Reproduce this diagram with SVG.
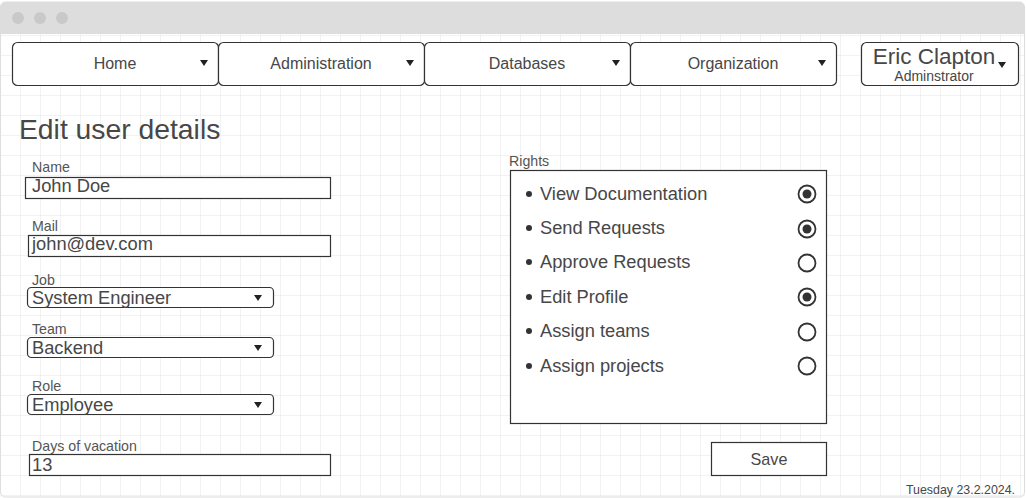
<svg xmlns="http://www.w3.org/2000/svg" width="1026" height="498" viewBox="0 0 1026 498">
<defs>
<pattern id="grid" x="0" y="15" width="20" height="20" patternUnits="userSpaceOnUse">
<path d="M0 0H20M0 0V20" fill="none" stroke="#e6e6e6" stroke-width="1"/>
</pattern>
</defs>
<style>
text{font-family:"Liberation Sans",Arial,sans-serif;fill:#474747}
.nav{font-size:16px;text-anchor:middle}
.lbl{font-size:14.2px;fill:#555}
.val{font-size:18.3px}
.box{fill:#fff;stroke:#333;stroke-width:1.2}
.arr{fill:#222}
.radio{fill:#fff;stroke:#333;stroke-width:1.8}
.dot{fill:#333}
</style>
<rect x="0" y="0" width="1026" height="498" fill="#fff"/>
<g id="window">
<rect x="0.5" y="2" width="1024" height="495" rx="5" fill="#fff" stroke="#dcdcdc"/>
<rect x="0.5" y="34" width="1024" height="463" fill="url(#grid)"/>
<path d="M0.5 34V7a5 5 0 0 1 5-5H1019.5a5 5 0 0 1 5 5V34Z" fill="#dddddd"/>
<circle cx="18" cy="18" r="6" fill="#c9c9c9"/>
<circle cx="40" cy="18" r="6" fill="#c9c9c9"/>
<circle cx="62" cy="18" r="6" fill="#c9c9c9"/>
</g>
<g id="nav-home">
<rect class="box" x="12.5" y="42.5" width="206" height="43" rx="5"/>
<text class="nav" x="115" y="69">Home</text>
<path class="arr" d="M200 60h8l-4 6z"/>
</g>
<g id="nav-administration">
<rect class="box" x="218.5" y="42.5" width="206" height="43" rx="5"/>
<text class="nav" x="321" y="69">Administration</text>
<path class="arr" d="M406 60h8l-4 6z"/>
</g>
<g id="nav-databases">
<rect class="box" x="424.5" y="42.5" width="206" height="43" rx="5"/>
<text class="nav" x="527" y="69">Databases</text>
<path class="arr" d="M612 60h8l-4 6z"/>
</g>
<g id="nav-organization">
<rect class="box" x="630.5" y="42.5" width="206" height="43" rx="5"/>
<text class="nav" x="733" y="69">Organization</text>
<path class="arr" d="M818 60h8l-4 6z"/>
</g>
<g id="user-menu">
<rect class="box" x="861.5" y="42.5" width="157" height="43" rx="5"/>
<text x="934" y="63.5" font-size="22.5" text-anchor="middle">Eric Clapton</text>
<text x="934" y="81" font-size="14" text-anchor="middle">Adminstrator</text>
<path class="arr" d="M998 62h8l-4 6z"/>
</g>
<g id="title">
<text x="19" y="139" font-size="28.3">Edit user details</text>
</g>
<g id="field-name">
<text class="lbl" x="32" y="172">Name</text>
<rect class="box" x="25.5" y="177.5" width="305" height="21"/>
<text class="val" x="32" y="192">John Doe</text>
</g>
<g id="field-mail">
<text class="lbl" x="32" y="231">Mail</text>
<rect class="box" x="28.5" y="235.5" width="302" height="21"/>
<text class="val" x="32" y="250">john@dev.com</text>
</g>
<g id="field-job">
<text class="lbl" x="32" y="285">Job</text>
<rect class="box" x="27.5" y="287.5" width="246" height="20" rx="4"/>
<text class="val" x="32" y="303.5">System Engineer</text>
<path class="arr" d="M254 295h8l-4 6z"/>
</g>
<g id="field-team">
<text class="lbl" x="32" y="334">Team</text>
<rect class="box" x="27.5" y="337.5" width="246" height="20" rx="4"/>
<text class="val" x="32" y="353.5">Backend</text>
<path class="arr" d="M254 345h8l-4 6z"/>
</g>
<g id="field-role">
<text class="lbl" x="32" y="391">Role</text>
<rect class="box" x="27.5" y="394.5" width="246" height="20" rx="4"/>
<text class="val" x="32" y="410.5">Employee</text>
<path class="arr" d="M254 402h8l-4 6z"/>
</g>
<g id="field-vacation">
<text class="lbl" x="32" y="451">Days of vacation</text>
<rect class="box" x="29.5" y="454.5" width="301" height="21"/>
<text class="val" x="32" y="471">13</text>
</g>
<g id="rights">
<text class="lbl" x="509" y="166">Rights</text>
<rect class="box" x="510.5" y="170.5" width="316" height="253"/>
<g>
<circle class="dot" cx="529" cy="194" r="3"/>
<text class="val" x="540" y="199.5">View Documentation</text>
<circle class="radio" cx="807" cy="194" r="8.5"/><circle class="dot" cx="807" cy="194" r="4.5"/>
</g>
<g>
<circle class="dot" cx="529" cy="228" r="3"/>
<text class="val" x="540" y="233.5">Send Requests</text>
<circle class="radio" cx="807" cy="229" r="8.5"/><circle class="dot" cx="807" cy="229" r="4.5"/>
</g>
<g>
<circle class="dot" cx="529" cy="262" r="3"/>
<text class="val" x="540" y="267.5">Approve Requests</text>
<circle class="radio" cx="807" cy="263" r="8.5"/>
</g>
<g>
<circle class="dot" cx="529" cy="297" r="3"/>
<text class="val" x="540" y="302.5">Edit Profile</text>
<circle class="radio" cx="807" cy="297" r="8.5"/><circle class="dot" cx="807" cy="297" r="4.5"/>
</g>
<g>
<circle class="dot" cx="529" cy="331" r="3"/>
<text class="val" x="540" y="337">Assign teams</text>
<circle class="radio" cx="807" cy="332" r="8.5"/>
</g>
<g>
<circle class="dot" cx="529" cy="366" r="3"/>
<text class="val" x="540" y="371.5">Assign projects</text>
<circle class="radio" cx="807" cy="366" r="8.5"/>
</g>
</g>
<g id="save-button">
<rect class="box" x="711.5" y="442.5" width="115" height="33"/>
<text x="769" y="464.5" font-size="16.2" text-anchor="middle">Save</text>
</g>
<g id="date">
<text x="1015" y="494" font-size="12.4" text-anchor="end">Tuesday 23.2.2024.</text>
</g>
</svg>
